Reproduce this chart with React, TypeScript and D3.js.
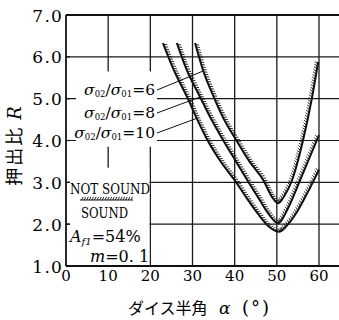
import * as React from "react";
import * as d3 from "d3";

// die half angle (deg) / extrusion ratio R
const xTicks = [0, 10, 20, 30, 40, 50, 60];
const yTicks = [1, 2, 3, 4, 5, 6, 7];
const xTickLabels = ["0", "10", "20", "30", "40", "50", "60"];
const yTickLabels = ["1.0", "2.0", "3.0", "4.0", "5.0", "6.0", "7.0"];

const ratios = [6, 8, 10];
const alpha6 = [30.6, 32.5, 35, 37.5, 40.3, 43.5, 46.8, 48.8, 50.3, 51.8, 53.6, 56.2, 58.3, 59.8];
const r6 = [6.33, 5.68, 5.05, 4.5, 4.02, 3.5, 3.05, 2.66, 2.5, 2.68, 3.05, 4.0, 5.0, 5.88];
const alpha8 = [26.3, 28.5, 31.8, 34.5, 37.3, 40, 43, 45.5, 48, 50.3, 52.5, 55.5, 58, 60];
const r8 = [6.33, 5.72, 5.04, 4.5, 4.0, 3.55, 3.05, 2.65, 2.25, 2.02, 2.35, 3.05, 3.65, 4.13];
const alpha10 = [23, 25.5, 28.9, 31, 33.6, 37, 40, 43, 45.5, 48, 50.5, 52.5, 54.5, 57, 60];
const r10 = [6.33, 5.7, 5.0, 4.53, 4.0, 3.45, 3.05, 2.6, 2.25, 1.95, 1.82, 1.98, 2.25, 2.7, 3.3];

// where the label leaders touch each curve
const leaderAlpha = [32.5, 31.8, 31.0];
const leaderR = [5.66, 5.04, 4.53];

const serif = "'DejaVu Serif', 'Liberation Serif', serif";
const jp = "'Noto Sans CJK JP', sans-serif";

function hatch(g, pathNode, step, len) {
  const total = pathNode.getTotalLength();
  for (let l = 1.5; l < total - 0.5; l += step) {
    const a = pathNode.getPointAtLength(Math.max(0, l - 0.6));
    const b = pathNode.getPointAtLength(Math.min(total, l + 0.6));
    let tx = b.x - a.x, ty = b.y - a.y;
    const n = Math.hypot(tx, ty) || 1;
    tx /= n; ty /= n;
    // upper side normal (x always increases along the path)
    const nx = ty, ny = -tx;
    const p = pathNode.getPointAtLength(l);
    g.append("line")
      .attr("x1", p.x).attr("y1", p.y)
      .attr("x2", p.x + nx * len + tx * 1.6)
      .attr("y2", p.y + ny * len + ty * 1.6)
      .attr("stroke", "#111").attr("stroke-width", 0.9);
  }
}

function drawChart(svgRef) {
  const x = d3.scaleLinear().domain([0, 60]).range([66, 319]);
  const y = d3.scaleLinear().domain([1, 7]).range([266, 15]);

  const svg = d3.select(svgRef.current);
  svg.selectAll("*").remove();

  svg.append("rect").attr("width", 339).attr("height", 320).attr("fill", "#fff");

  const grid = svg.append("g").attr("stroke", "#1a1a1a");
  grid.selectAll(".vg").data(xTicks.slice(1)).enter().append("line")
    .attr("x1", d => x(d)).attr("x2", d => x(d))
    .attr("y1", y(7)).attr("y2", y(1))
    .attr("stroke-width", 1.3);
  grid.selectAll(".hg").data(yTicks.slice(1, -1)).enter().append("line")
    .attr("x1", x(0)).attr("x2", x(65))
    .attr("y1", d => y(d)).attr("y2", d => y(d))
    .attr("stroke-width", 1.2);

  // white areas behind the labels
  svg.append("rect").attr("x", 76).attr("y", y(5.65))
    .attr("width", 81).attr("height", y(3.85) - y(5.65)).attr("fill", "#fff");
  svg.append("rect").attr("x", 70).attr("y", y(3.35))
    .attr("width", x(20) - 71).attr("height", y(1) - y(3.35) - 1).attr("fill", "#fff");

  // frame
  const frame = svg.append("g").attr("stroke", "#111").attr("stroke-width", 1.8);
  frame.append("line").attr("x1", x(0)).attr("x2", x(0)).attr("y1", y(7)).attr("y2", y(1));
  frame.append("line").attr("x1", x(0)).attr("x2", x(65)).attr("y1", y(7)).attr("y2", y(7));
  frame.append("line").attr("x1", x(0)).attr("x2", x(65)).attr("y1", y(1)).attr("y2", y(1));
  frame.selectAll(".yt").data(yTicks.slice(1, -1)).enter().append("line")
    .attr("x1", x(0)).attr("x2", x(0) + 4)
    .attr("y1", d => y(d)).attr("y2", d => y(d)).attr("stroke-width", 1.2);

  // tick labels
  svg.selectAll(".yl").data(yTicks).enter().append("text")
    .attr("x", 63).attr("y", d => y(d) + 6.5)
    .attr("text-anchor", "end")
    .attr("font-family", serif).attr("font-size", 17).attr("letter-spacing", 1.2)
    .text((d, i) => yTickLabels[i]);
  svg.selectAll(".xl").data(xTicks).enter().append("text")
    .attr("x", d => x(d)).attr("y", 281)
    .attr("text-anchor", "middle")
    .attr("font-family", serif).attr("font-size", 15)
    .text((d, i) => xTickLabels[i]);

  // curves
  const series = [
    { a: alpha6, r: r6 },
    { a: alpha8, r: r8 },
    { a: alpha10, r: r10 },
  ];
  const line = d3.line().x(d => x(d[0])).y(d => y(d[1])).curve(d3.curveMonotoneX);
  const cg = svg.append("g");
  series.forEach(s => {
    const pts = s.a.map((a, i) => [a, s.r[i]]);
    const p = cg.append("path").attr("d", line(pts))
      .attr("fill", "none").attr("stroke", "#111").attr("stroke-width", 2);
    hatch(cg, p.node(), 2.6, 3.4);
  });

  // labels with leaders
  const labelRight = [155, 155, 155];
  const labelMid = [89, 112, 132];
  ratios.forEach((k, i) => {
    const t = svg.append("text")
      .attr("x", labelRight[i]).attr("y", labelMid[i] + 5.5)
      .attr("text-anchor", "end")
      .attr("font-family", serif).attr("font-size", 15.5);
    t.append("tspan").attr("font-style", "italic").text("σ");
    t.append("tspan").attr("font-size", 8.5).attr("dy", 2.5).text("02");
    t.append("tspan").attr("dy", -2.5).text("/");
    t.append("tspan").attr("font-style", "italic").text("σ");
    t.append("tspan").attr("font-size", 8.5).attr("dy", 2.5).text("01");
    t.append("tspan").attr("dy", -2.5).text("=" + k);
    svg.append("line")
      .attr("x1", labelRight[i] + 2).attr("y1", labelMid[i] + 1)
      .attr("x2", x(leaderAlpha[i])).attr("y2", y(leaderR[i]))
      .attr("stroke", "#111").attr("stroke-width", 1);
  });

  // legend
  svg.append("text").attr("x", 70).attr("y", 194)
    .attr("font-family", serif).attr("font-size", 15)
    .attr("textLength", 80).attr("lengthAdjust", "spacingAndGlyphs")
    .text("NOT SOUND");
  const lg = svg.append("g");
  const lp = lg.append("path").attr("d", "M80,200L133,200")
    .attr("stroke", "#111").attr("stroke-width", 1.2);
  hatch(lg, lp.node(), 2.6, 3.2);
  svg.append("text").attr("x", 81).attr("y", 218)
    .attr("font-family", serif).attr("font-size", 15)
    .attr("textLength", 47).attr("lengthAdjust", "spacingAndGlyphs")
    .text("SOUND");
  const at = svg.append("text").attr("x", 70).attr("y", 242)
    .attr("font-family", serif).attr("font-size", 16);
  at.append("tspan").attr("font-style", "italic").text("A");
  at.append("tspan").attr("font-style", "italic").attr("font-size", 10).attr("dy", 3).text("f1");
  at.append("tspan").attr("dy", -3).text("=54%");
  const mt = svg.append("text").attr("x", 90).attr("y", 262)
    .attr("font-family", serif).attr("font-size", 16);
  mt.append("tspan").attr("font-style", "italic").text("m");
  mt.append("tspan").text("=0. 1");

  // axis titles
  const xt = svg.append("text").attr("y", 314).attr("font-size", 16);
  xt.append("tspan").attr("x", 128).attr("font-family", jp).text("ダイス半角");
  xt.append("tspan").attr("x", 219).attr("font-family", serif).attr("font-style", "italic").attr("font-size", 17).text("α");
  xt.append("tspan").attr("x", 242).attr("font-family", serif).attr("font-size", 18).attr("letter-spacing", 2).text("(°)");

  const yt = svg.append("text")
    .attr("transform", "translate(21,145) rotate(-90)")
    .attr("text-anchor", "middle")
    .attr("font-family", jp).attr("font-size", 18).attr("letter-spacing", 2);
  yt.append("tspan").text("押出比 ");
  yt.append("tspan").attr("font-family", serif).attr("font-style", "italic").text("R");
}

const App = () => {
  const svgRef = React.useRef(null);
  React.useEffect(() => {
    drawChart(svgRef);
  }, [svgRef]);
  return (
    <div style={{ position: "absolute", left: 0, top: 0, width: 339, height: 320, overflow: "hidden" }}>
      <svg ref={svgRef} width={339} height={320} style={{ display: "block" }} />
    </div>
  );
};

export default App;
